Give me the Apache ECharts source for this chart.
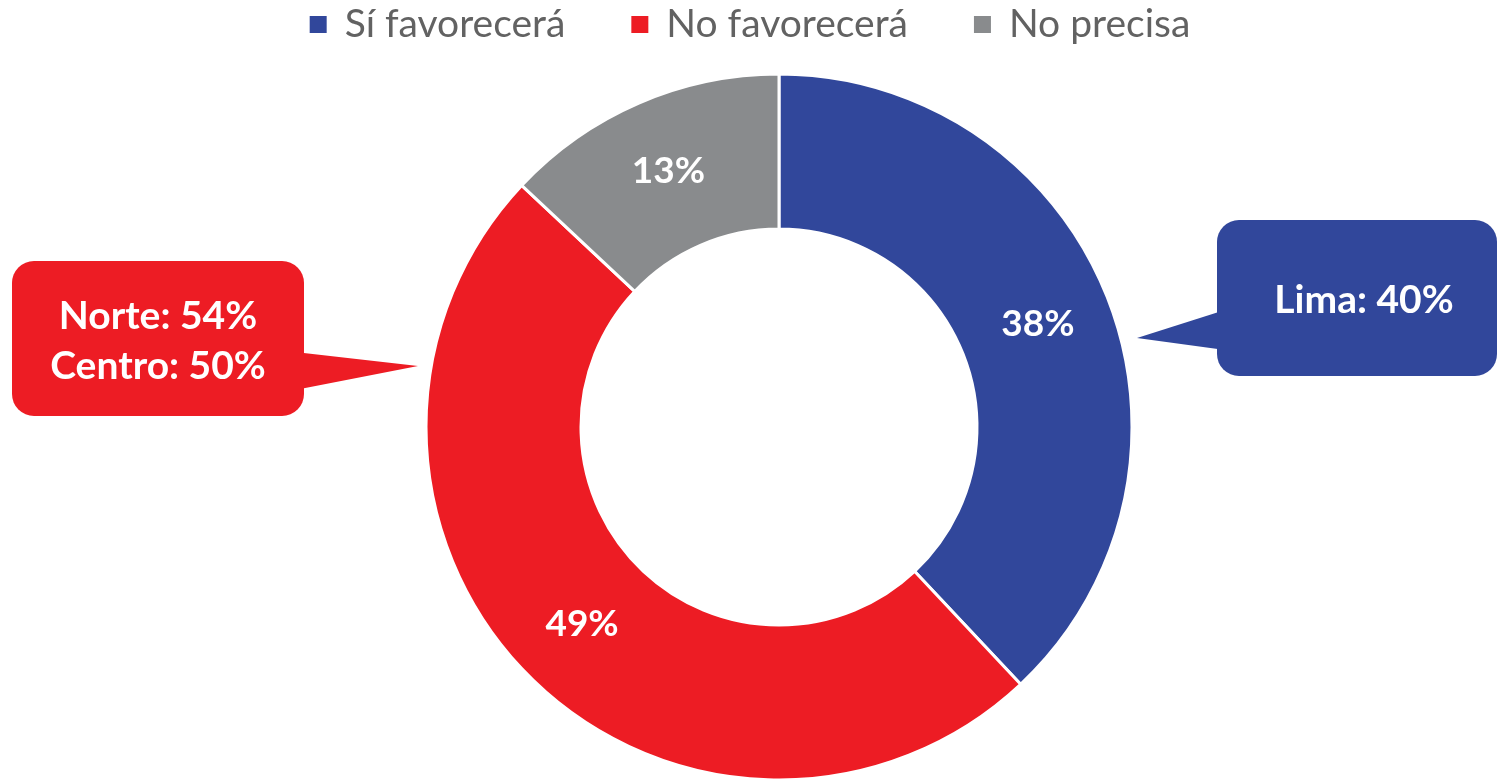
<!DOCTYPE html>
<html>
<head>
<meta charset="utf-8">
<style>
  html, body { margin: 0; padding: 0; background: #ffffff; }
  #chart { width: 1498px; height: 780px; }
</style>
<script src="https://cdn.jsdelivr.net/npm/echarts@6/dist/echarts.min.js"></script>
</head>
<body>
<div id="chart"></div>
<script>
// Opinion shares (%) for the national total
const categories = ['Sí favorecerá', 'No favorecerá', 'No precisa'];
const shares = [38, 49, 13];
const colors = ['#31479B', '#ED1C24', '#898B8D'];

// Regional highlights shown in the callouts
const limaNote = ['Lima: 40%'];
const northCentreNote = ['Norte: 54%', 'Centro: 50%'];

const chart = echarts.init(document.getElementById('chart'), null, { renderer: 'canvas' });

const FONT = 'Lato, "Open Sans", sans-serif';

const pieData = categories.map((name, i) => ({
  name: name,
  value: shares[i],
  itemStyle: { color: colors[i] }
}));

const calloutText = {
  fill: '#ffffff',
  fontFamily: FONT,
  fontWeight: 'bold',
  fontSize: 39,
  align: 'center',
  verticalAlign: 'middle',
  lineHeight: 50
};

chart.setOption({
  backgroundColor: '#ffffff',
  animation: false,
  legend: {
    data: categories,
    top: 0,
    left: 'center',
    icon: 'rect',
    itemWidth: 19,
    itemHeight: 19,
    itemGap: 64,
    textStyle: {
      color: '#626262',
      fontFamily: FONT,
      fontSize: 39,
      padding: [0, 0, 0, 12]
    }
  },
  series: [{
    type: 'pie',
    center: [779, 427],
    radius: [198, 353],
    startAngle: 90,
    clockwise: true,
    avoidLabelOverlap: false,
    data: pieData,
    itemStyle: { borderColor: '#ffffff', borderWidth: 3 },
    label: {
      show: true,
      position: 'inside',
      formatter: '{c}%',
      color: '#ffffff',
      fontFamily: FONT,
      fontWeight: 'bold',
      fontSize: 37
    },
    labelLine: { show: false },
    emphasis: { disabled: true }
  }],
  graphic: [
    // Blue callout pointing at the "Sí favorecerá" ring
    {
      type: 'polygon',
      shape: { points: [[1137, 338], [1225, 310], [1225, 350]] },
      style: { fill: colors[0] }
    },
    {
      type: 'rect',
      shape: { x: 1217, y: 220, width: 280, height: 156, r: 22 },
      style: { fill: colors[0] }
    },
    {
      type: 'text',
      x: 1364, y: 300,
      style: Object.assign({ text: limaNote.join('\n') }, calloutText)
    },
    // Red callout pointing at the "No favorecerá" ring
    {
      type: 'polygon',
      shape: { points: [[418, 366], [295, 352], [295, 390]] },
      style: { fill: colors[1] }
    },
    {
      type: 'rect',
      shape: { x: 12, y: 261, width: 292, height: 155, r: 22 },
      style: { fill: colors[1] }
    },
    {
      type: 'text',
      x: 158, y: 341,
      style: Object.assign({ text: northCentreNote.join('\n') }, calloutText)
    }
  ]
});
</script>
</body>
</html>
